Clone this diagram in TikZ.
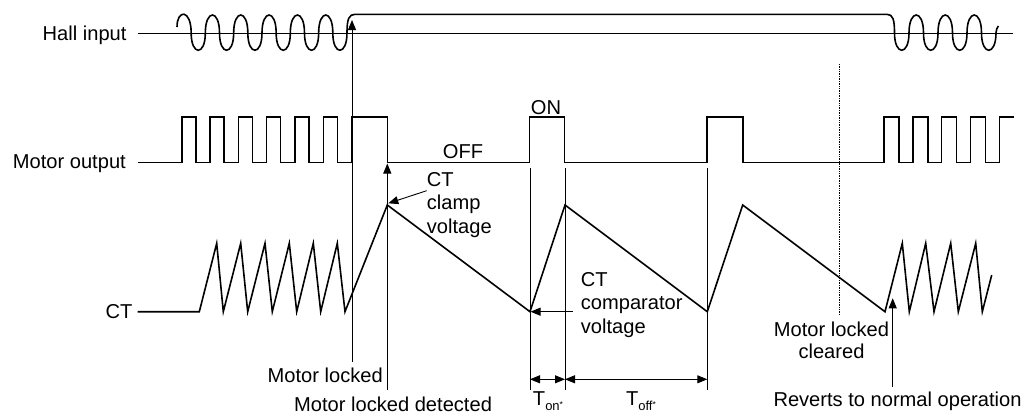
\documentclass[tikz,border=0pt]{standalone}
\usepackage{fontspec}
\setmainfont{Liberation Sans}
\usetikzlibrary{arrows.meta}
\begin{document}
\begin{tikzpicture}[x=1pt,y=-1pt,
  sig/.style={line width=1.6pt, line join=miter},
  markline/.style={line width=0.9pt},
  lbl/.style={font=\fontsize{20.1}{23.5}\selectfont, inner sep=0pt},
  tipend/.style={-{Triangle[width=8pt,length=10pt]}},
  tipboth/.style={{Triangle[width=8pt,length=10pt]}-{Triangle[width=8pt,length=10pt]}}
]
\useasboundingbox (0,0) rectangle (1028,415);

% ---- signal labels
\node[lbl, anchor=base east] (hall) at (126.7,40.7) {Hall input};
\node[lbl, anchor=base east] (motor) at (126,168) {Motor output};
\node[lbl, anchor=base east] (ct) at (132.7,318.7) {CT};

% ---- Hall input
\coordinate (hallA) at (137.7,33.3);
\coordinate (hallB) at (1013.3,33.3);
\draw[sig] (hallA) -- (hallB);
\draw[sig] (177,27) .. controls (177,9) and (191.17,9) .. (191.17,33)
  .. controls (191.17,56) and (205.33,56) .. (205.33,33)
  \foreach \i in {1,...,5} {
   .. controls ({177+\i*28.33},9) and ({191.17+\i*28.33},9) .. ({191.17+\i*28.33},33)
   .. controls ({191.17+\i*28.33},56) and ({205.33+\i*28.33},56) .. ({205.33+\i*28.33},33) }
  .. controls (347,19) and (349,14.3) .. (355,14.3) -- (887,14.3)
  .. controls (893,14.3) and (894.5,20) .. (894.5,33)
  \foreach \i in {0,1,2} {
   .. controls ({894.5+\i*29},56) and ({909+\i*29},56) .. ({909+\i*29},33)
   .. controls ({909+\i*29},9) and ({923.5+\i*29},9) .. ({923.5+\i*29},33) }
  .. controls (981.5,56) and (996,56) .. (996,33)
  .. controls (996,30) and (997,28) .. (998.3,26);

% ---- Motor output
\draw[sig] (137.7,162.3)
  \foreach \i in {0,...,5} {
   -- ({181.7+\i*28.33},162.3) -- ({181.7+\i*28.33},116.7)
   -- ({195.7+\i*28.33},116.7) -- ({195.7+\i*28.33},162.3) }
  -- (351.7,162.3) -- (351.7,116.7) -- (387.3,116.7) -- (387.3,162.3)
  -- (529.6,162.3) -- (529.6,116.7) -- (564.6,116.7) -- (564.6,162.3)
  -- (707.1,162.3) -- (707.1,116.7) -- (743.1,116.7) -- (743.1,162.3)
  \foreach \i in {0,...,3} {
   -- ({883.8+\i*28.9},162.3) -- ({883.8+\i*28.9},116.7)
   -- ({898.8+\i*28.9},116.7) -- ({898.8+\i*28.9},162.3) }
  -- (999.4,162.3) -- (999.4,116.7) -- (1013.5,116.7);
\node[lbl, anchor=base] (off) at (463,158.7) {OFF};
\node[lbl, anchor=base] (on) at (546,114.6) {ON};

% ---- CT
\draw[sig] (137.7,311.7) -- (199.3,311.7)
  -- (216.7,243.3) -- (223.3,311.7) -- (240.7,243.3) -- (247.7,311.7)
  -- (265,243.3) -- (272.3,311.7) -- (289.3,243.3) -- (296.7,311.7)
  -- (313.3,243.3) -- (320.7,311.7) -- (337.3,243.3) -- (345,311.7)
  -- (387.3,205) -- (530,311.7) -- (565,205) -- (707.3,311.7)
  -- (742.7,205) -- (885,311.7)
  -- (902.3,243.3) -- (909.3,311.7) -- (925.7,243.3) -- (934,311.7)
  -- (950.7,243.3) -- (958.3,311.7) -- (975.7,243.3) -- (982.3,311.7)
  -- (991.7,275);

% ---- event markers
\coordinate (lockB) at (352,362);
\coordinate (lockT) at (352,20);
\draw[markline, tipend] (lockB) -- (lockT);
\coordinate (detB) at (387.3,390);
\coordinate (detT) at (387.3,163.5);
\draw[markline, tipend] (detB) -- (detT);
\coordinate (m1T) at (530,168); \coordinate (m1B) at (530,390);
\coordinate (m2T) at (565,168); \coordinate (m2B) at (565,390);
\coordinate (m3T) at (707.3,168); \coordinate (m3B) at (707.3,390);
\draw[markline] (m1T) -- (m1B);
\draw[markline] (m2T) -- (m2B);
\draw[markline] (m3T) -- (m3B);
\coordinate (clrT) at (839.4,64); \coordinate (clrB) at (839.4,315);
\draw[line width=0.7pt, densely dotted] (clrT) -- (clrB);
\coordinate (revB) at (892.7,386.7); \coordinate (revT) at (892.7,298.3);
\draw[markline, tipend] (revB) -- (revT);

% ---- T_on / T_off
\coordinate (ta) at (530,379.3);
\coordinate (tb) at (565,379.3);
\coordinate (tc) at (707.3,379.3);
\draw[markline, tipboth] (ta) -- (tb);
\draw[markline, tipboth] (tb) -- (tc);
\node[lbl, anchor=base] (ton) at (548,405) {T\raisebox{-5pt}{\fontsize{13}{13}\selectfont on\raisebox{3pt}{\fontsize{8.5}{8.5}\selectfont *}}};
\node[lbl, anchor=base] (toff) at (641,405) {T\raisebox{-5pt}{\fontsize{13}{13}\selectfont off\raisebox{3pt}{\fontsize{8.5}{8.5}\selectfont *}}};

% ---- annotations
\node[lbl, anchor=north west, align=left] (clamp) at (426.7,172) {CT\\clamp\\voltage};
\coordinate (clampA) at (426.7,190.7);
\coordinate (clampP) at (388.3,203.3);
\draw[markline, tipend] (clampA) -- (clampP);

\node[lbl, anchor=north west, align=left] (comp) at (580.7,272) {CT\\comparator\\voltage};
\coordinate (compA) at (572.7,311.7);
\coordinate (compP) at (530.5,311.7);
\draw[markline, tipend] (compA) -- (compP);

\node[lbl, anchor=base east] (locked) at (383,382) {Motor locked};
\node[lbl, anchor=base west] (detected) at (294,411) {Motor locked detected};
\node[lbl, anchor=north, align=center, font=\fontsize{20.1}{22}\selectfont] (cleared) at (831.5,321.3) {Motor locked\\cleared};
\node[lbl, anchor=base west] (reverts) at (773.3,406.7) {Reverts to normal operation};
\end{tikzpicture}
\end{document}
